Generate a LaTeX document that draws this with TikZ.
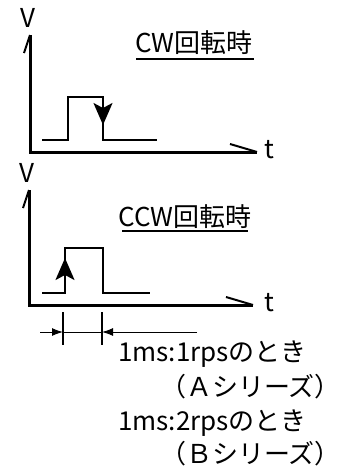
\documentclass[tikz,border=0pt]{standalone}
\usepackage{fontspec}
\setmainfont{Noto Sans CJK JP}
\usetikzlibrary{arrows.meta}

\begin{document}
\begin{tikzpicture}[x=1pt, y=-1pt,
		achse/.style={line width=3pt},
		puls/.style={line width=2pt},
		zeiger/.style={line width=2pt, -{Stealth[length=22pt, width=19pt, inset=5pt]}},
		mass/.style={line width=1pt, -{Latex[length=11pt, width=8pt]}},
		font=\fontsize{26}{30}\selectfont, inner sep=0pt]
		\useasboundingbox (0,0) rectangle (347,471);
		% oberes Diagramm (CW)
		\coordinate (O1) at (30,152);
		\coordinate (Y1) at (30,35);
		\coordinate (X1) at (257,152);
		\draw[achse] (Y1) -- (O1) -- (X1);
		\draw[line width=2pt] (Y1) -- ++(-6,18);
		\draw[line width=2pt] (X1) -- ++(-27,-8);
		\node (v1) at (28,18) {V};
		\node (t1) at (269,150) {t};
		\node (cw) at (194,43) {CW回転時};
		\draw[line width=1.3pt] (136,59) -- (254,59);
		% Puls
		\draw[puls] (42,140) -- (68,140) -- (68,97) -- (103,97) -- (103,140) -- (157,140);
		\draw[zeiger] (103,97) -- (103,125);
		% unteres Diagramm (CCW)
		\coordinate (O2) at (29,305);
		\coordinate (Y2) at (29,190);
		\coordinate (X2) at (253,305);
		\draw[achse] (Y2) -- (O2) -- (X2);
		\draw[line width=2pt] (Y2) -- ++(-6,18);
		\draw[line width=2pt] (X2) -- ++(-27,-8);
		\node (v2) at (27,173) {V};
		\node (t2) at (269,303) {t};
		\node (ccw) at (185,217) {CCW回転時};
		\draw[line width=1.3pt] (122,231) -- (248,231);
		% Puls
		\draw[puls] (42,293) -- (65,293) -- (65,248) -- (103,248) -- (103,293) -- (150,293);
		\draw[zeiger] (65,293) -- (65,258);
		% Bemassung
		\foreach \x/\n in {63/m1,102/m2} {
			\draw[line width=1.2pt] (\x,312) -- (\x,345);
			\coordinate (\n) at (\x,332);
		}
		\coordinate (m0) at (40,332);
		\coordinate (m3) at (197,332);
		\draw[mass] (m0) -- (m1);
		\draw[line width=1pt] (m1) -- (m2);
		\draw[mass] (m3) -- (m2);
		% Beschriftung
		\node[anchor=west] (a1) at (118,354) {1ms:1rpsのとき};
		\node[anchor=west] (a2) at (160,387) {（Ａシリーズ）};
		\node[anchor=west] (b1) at (118,423) {1ms:2rpsのとき};
		\node[anchor=west] (b2) at (160,454) {（Ｂシリーズ）};
\end{tikzpicture}
\end{document}
